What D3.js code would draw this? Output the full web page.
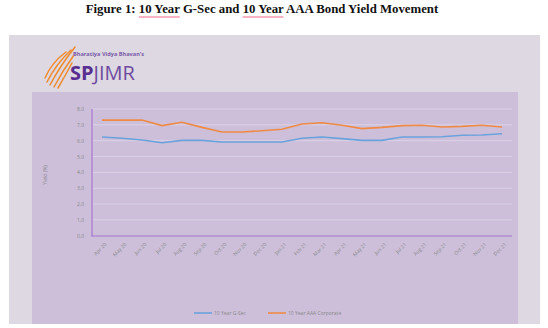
<!DOCTYPE html>
<html><head><meta charset="utf-8">
<script src="https://cdn.jsdelivr.net/npm/d3@7"></script>
<style>body{margin:0;background:#fff}svg{display:block}</style>
</head><body>
<script>
const months = ["Apr 20","May 20","Jun 20","Jul 20","Aug 20","Sep 20","Oct 20","Nov 20","Dec 20","Jan 21","Feb 21","Mar 21","Apr 21","May 21","Jun 21","Jul 21","Aug 21","Sep 21","Oct 21","Nov 21","Dec 21"];
const gsec = [6.23,6.15,6.04,5.87,6.02,6.02,5.92,5.92,5.92,5.92,6.15,6.23,6.13,6.02,6.02,6.23,6.23,6.25,6.34,6.36,6.44];
const aaa  = [7.30,7.30,7.30,6.95,7.16,6.84,6.55,6.55,6.63,6.72,7.05,7.13,6.97,6.76,6.84,6.95,6.97,6.86,6.90,6.97,6.86];
const yTicks = [0,1,2,3,4,5,6,7,8];
const seriesNames = ["10 Year G-Sec","10 Year AAA Corporate"];

const W=548,H=328;
const svg=d3.select("body").append("svg").attr("width",W).attr("height",H);

// title
const title = svg.append("text").attr("x",262).attr("y",13).attr("text-anchor","middle")
  .attr("font-family","Liberation Serif, Times New Roman, serif").attr("font-weight","bold").attr("font-size",12.8).attr("fill","#111");
title.append("tspan").text("Figure 1: ");
title.append("tspan").attr("class","u").text("10 Year");
title.append("tspan").text(" G-Sec and ");
title.append("tspan").attr("class","u").text("10 Year");
title.append("tspan").text(" AAA Bond Yield Movement");
title.selectAll("tspan.u").nodes().forEach(n=>{
  const start=n.getStartPositionOfChar(0).x;
  const end=n.getEndPositionOfChar(n.getNumberOfChars()-1).x;
  svg.append("line").attr("x1",start).attr("x2",end).attr("y1",17).attr("y2",17)
    .attr("stroke","#f49ab0").attr("stroke-width",1.6);
});

// panels
svg.append("rect").attr("x",9).attr("y",35).attr("width",531).attr("height",289).attr("fill","#ddd8e1");
svg.append("rect").attr("x",32).attr("y",92).attr("width",486).attr("height",232).attr("fill","#cdbfda");

// logo
const logo=svg.append("g");
const sw=[[45,78,52,62,66,52],[47,82,56,64,71,50],[50,85,60,66,75,47],[54,87,63,70,74,55],[58,88,65,76,72,63]];
sw.forEach(s=>{
  logo.append("path").attr("d",`M${s[0]},${s[1]} Q${s[2]},${s[3]} ${s[4]},${s[5]}`)
   .attr("fill","none").attr("stroke","#f08a2c").attr("stroke-width",1.5).attr("stroke-linecap","round");
});
logo.append("text").attr("x",73).attr("y",56).attr("font-family","Open Sans, sans-serif").attr("font-size",5.6)
  .attr("font-weight","bold").attr("fill","#7a5aa8").text("Bharatiya Vidya Bhavan's");
const lt=logo.append("text").attr("x",70).attr("y",80).attr("font-family","Open Sans, sans-serif").attr("font-size",20).attr("fill","#5a2d91");
lt.append("tspan").attr("font-weight","bold").text("SP");
lt.append("tspan").attr("font-weight","normal").attr("fill","#6e4aa0").text("JIMR");

// chart
const x=d3.scaleBand().domain(months).range([92,512]);
const y=d3.scaleLinear().domain([0,8]).range([235.7,109]);

svg.append("g").selectAll("line").data(yTicks.slice(1)).join("line")
  .attr("x1",92).attr("x2",512).attr("y1",d=>y(d)).attr("y2",d=>y(d))
  .attr("stroke","#dcd2e6").attr("stroke-width",1);

const yAxis=d3.axisLeft(y).tickValues(yTicks).tickFormat(d3.format(".1f")).tickSize(0).tickPadding(8);
const ya=svg.append("g").attr("transform","translate(92,0)").call(yAxis);
ya.select(".domain").remove();
ya.selectAll("text").attr("font-family","Open Sans, sans-serif").attr("font-size",5).attr("fill","#888");

const xAxis=d3.axisBottom(x).tickSize(0).tickPadding(4);
const xa=svg.append("g").attr("transform","translate(0,236)").call(xAxis);
xa.select(".domain").remove();
xa.selectAll("text").attr("font-family","Open Sans, sans-serif").attr("font-size",5).attr("fill","#888")
  .attr("text-anchor","end").attr("dy",0).attr("transform","translate(2,6) rotate(-45)");

// axis lines
svg.append("line").attr("x1",92).attr("x2",92).attr("y1",109).attr("y2",236.5).attr("stroke","#a575cf").attr("stroke-width",1.2);
svg.append("line").attr("x1",91.5).attr("x2",512).attr("y1",236).attr("y2",236).attr("stroke","#a575cf").attr("stroke-width",1.2);

svg.append("text").attr("transform","translate(47,175) rotate(-90)").attr("text-anchor","middle")
  .attr("font-family","Open Sans, sans-serif").attr("font-size",5).attr("fill","#888").text("Yield (%)");

const line=d3.line().x((d,i)=>x(months[i])+x.bandwidth()/2).y(d=>y(d));
const colors=["#6aa3dc","#ef8a45"];
[gsec,aaa].forEach((s,k)=>{
  svg.append("path").datum(s).attr("d",line).attr("fill","none").attr("stroke",colors[k]).attr("stroke-width",1.6);
});

// legend
const lg=[{x:194,name:seriesNames[0],c:colors[0]},{x:268,name:seriesNames[1],c:colors[1]}];
lg.forEach(l=>{
  svg.append("line").attr("x1",l.x).attr("x2",l.x+18).attr("y1",313).attr("y2",313).attr("stroke",l.c).attr("stroke-width",1.6);
  svg.append("text").attr("x",l.x+20).attr("y",314.8).attr("font-family","Open Sans, sans-serif").attr("font-size",5).attr("fill","#888").text(l.name);
});
</script>
</body></html>
